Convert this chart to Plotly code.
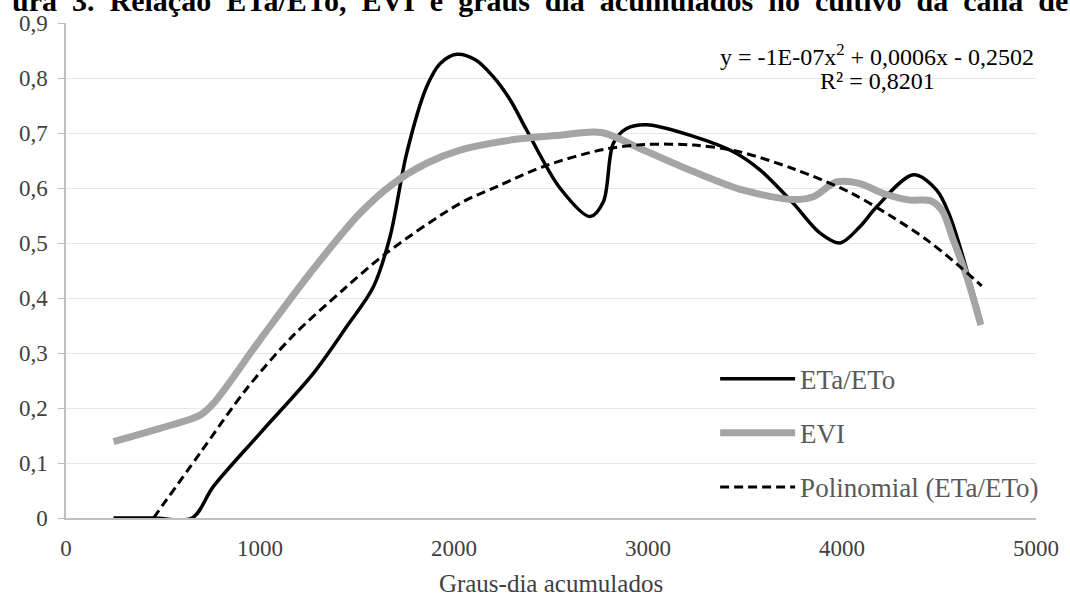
import plotly.graph_objects as go

# ---- data ----
eta_x = [245, 450, 650, 759, 1000, 1275, 1447, 1584, 1670, 1756, 1859, 1928, 2014, 2110, 2203, 2290, 2375,
         2546, 2701, 2770, 2821, 2890, 2993, 3234, 3440, 3577, 3749, 3887, 3990, 4093, 4179,
         4368, 4488, 4557, 4608, 4716]
eta_y = [0.0, 0.0, 0.0, 0.057, 0.154, 0.263, 0.348, 0.42, 0.511, 0.663, 0.784, 0.826, 0.843, 0.833, 0.802, 0.76, 0.705,
         0.60, 0.548, 0.575, 0.681, 0.708, 0.715, 0.694, 0.666, 0.633, 0.572, 0.518, 0.50, 0.53, 0.566,
         0.624, 0.596, 0.548, 0.493, 0.36]

evi_x = [245, 485, 691, 759, 1000, 1258, 1515, 1687, 1859, 2031, 2289, 2546, 2760, 2976, 3234,
         3491, 3749, 3852, 3972, 4093, 4213, 4351, 4454, 4514, 4574, 4643, 4716]
evi_y = [0.139, 0.163, 0.187, 0.208, 0.324, 0.445, 0.554, 0.608, 0.645, 0.669, 0.687, 0.696, 0.701, 0.669, 0.63,
         0.596, 0.579, 0.584, 0.611, 0.608, 0.59, 0.578, 0.577, 0.56, 0.505, 0.439, 0.351]

poly_x = [451, 691, 931, 1172, 1429, 1653, 2031, 2237, 2468, 2770, 2984, 3234, 3457, 3749,
          4041, 4247, 4436, 4591, 4720]
poly_y = [0.0, 0.118, 0.235, 0.332, 0.415, 0.482, 0.572, 0.605, 0.64, 0.67, 0.679, 0.678, 0.667, 0.635,
          0.592, 0.55, 0.506, 0.462, 0.422]

x_ticks = [0, 1000, 2000, 3000, 4000, 5000]
y_ticks = [0, 0.1, 0.2, 0.3, 0.4, 0.5, 0.6, 0.7, 0.8, 0.9]
y_tick_text = ["0", "0,1", "0,2", "0,3", "0,4", "0,5", "0,6", "0,7", "0,8", "0,9"]

series_names = ["ETa/ETo", "EVI", "Polinomial (ETa/ETo)"]
equation_line1 = "y = -1E-07x<sup>2</sup> + 0,0006x - 0,2502"
equation_line2 = "R² = 0,8201"
title_words = ["ura", "3.", "Relação", "ETa/ETo,", "EVI", "e", "graus", "dia", "acumulados",
               "no", "cultivo", "da", "cana", "de"]
x_title = "Graus-dia acumulados"

FONT = "Liberation Serif, Times New Roman, serif"
title_text = "<b>" + "\u00a0 ".join(title_words) + "</b>"

fig = go.Figure()
fig.add_trace(go.Scatter(x=eta_x, y=eta_y, mode="lines", name=series_names[0],
                         legendgroup="a",
                         line=dict(color="#000000", width=3.5, shape="spline", smoothing=0.9)))
fig.add_trace(go.Scatter(x=evi_x, y=evi_y, mode="lines", name=series_names[1],
                         legendgroup="b",
                         line=dict(color="#a5a5a5", width=7, shape="spline", smoothing=0.9)))
fig.add_trace(go.Scatter(x=poly_x, y=poly_y, mode="lines", name=series_names[2],
                         legendgroup="c",
                         line=dict(color="#000000", width=3, dash="9px,5px", shape="spline", smoothing=0.9)))

fig.update_layout(
    width=1070, height=597,
    margin=dict(l=66, r=34, t=23, b=79),
    paper_bgcolor="white", plot_bgcolor="white",
    font=dict(family=FONT, size=23, color="#404040"),
    showlegend=True,
    legend=dict(x=0.6692, y=0.330, xanchor="left", yanchor="top",
                bgcolor="rgba(0,0,0,0)", font=dict(size=27, color="#595959"),
                traceorder="grouped", tracegroupgap=16, itemwidth=75),
    xaxis=dict(range=[0, 5000], tickvals=x_ticks, showgrid=False, zeroline=False,
               showline=True, linecolor="#bfbfbf", linewidth=1.5, ticks="",
               ticklabelstandoff=9, automargin=False,
               title=dict(text=x_title, font=dict(size=25, color="#404040"), standoff=15)),
    yaxis=dict(range=[0, 0.9], tickvals=y_ticks, ticktext=y_tick_text,
               showgrid=True, gridcolor="#e6e6e6", gridwidth=1, zeroline=False,
               showline=True, linecolor="#bfbfbf", linewidth=1.5, automargin=False,
               ticks="outside", ticklen=6, tickcolor="#bfbfbf", ticklabelstandoff=6),
    annotations=[
        dict(text=equation_line1, xref="paper", yref="paper",
             x=(877 - 66) / 970, y=(518 - 55) / 495, xanchor="center", yanchor="middle",
             showarrow=False, font=dict(size=24, color="#000000", family=FONT)),
        dict(text=equation_line2, xref="paper", yref="paper",
             x=(877 - 66) / 970, y=(518 - 81) / 495, xanchor="center", yanchor="middle",
             showarrow=False, font=dict(size=24, color="#000000", family=FONT)),
        dict(text=title_text, xref="paper", yref="paper",
             x=(540 - 66) / 970, y=(518 - 1) / 495, xanchor="center", yanchor="middle",
             showarrow=False, font=dict(size=30, color="#000000", family=FONT)),
    ],
)

fig.write_html("out.html")
